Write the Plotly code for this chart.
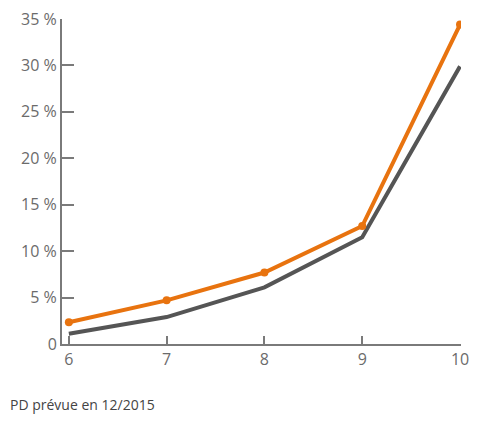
import plotly.graph_objects as go

x_vals = [6, 7, 8, 9, 10]
orange_vals = [2.35, 4.7, 7.7, 12.7, 34.4]
gray_vals = [1.1, 2.9, 6.1, 11.5, 29.9]
y_tick_vals = [0, 5, 10, 15, 20, 25, 30, 35]
y_tick_text = ["0", "5 %", "10 %", "15 %", "20 %", "25 %", "30 %", "35 %"]
footer_text = "PD prévue en 12/2015"

fig = go.Figure()
fig.add_trace(go.Scatter(x=x_vals, y=gray_vals, mode="lines",
                         line=dict(color="#555555", width=4), showlegend=False))
fig.add_trace(go.Scatter(x=x_vals, y=orange_vals, mode="lines+markers",
                         line=dict(color="#E8730F", width=4),
                         marker=dict(color="#E8730F", size=8), showlegend=False))

axis_color = "#7a7a7a"
fig.update_layout(
    width=471, height=406,
    margin=dict(l=54, r=18, t=11, b=70, autoexpand=False),
    paper_bgcolor="white", plot_bgcolor="white",
    font=dict(family="Open Sans", size=16, color="#6b6b6b"),
    xaxis=dict(range=[5.93, 10.01], tickvals=x_vals, ticktext=[str(v) for v in x_vals],
               showgrid=False, zeroline=False, showline=True, linecolor=axis_color, linewidth=2,
               ticks="inside", ticklen=8, tickwidth=1.5, tickcolor=axis_color, automargin=False,
               ticklabeloverflow="allow"),
    yaxis=dict(range=[0, 35], tickvals=y_tick_vals, ticktext=y_tick_text,
               showgrid=False, zeroline=False, showline=True, linecolor=axis_color, linewidth=2,
               ticks="inside", ticklen=12, tickwidth=1.5, tickcolor=axis_color, automargin=False,
               ticklabeloverflow="allow"),
    annotations=[dict(text=footer_text, xref="paper", yref="paper",
                      x=-54/399, y=-61/325, xanchor="left", yanchor="middle",
                      showarrow=False, font=dict(size=14, color="#444444"))],
)

fig.write_html("out.html")
